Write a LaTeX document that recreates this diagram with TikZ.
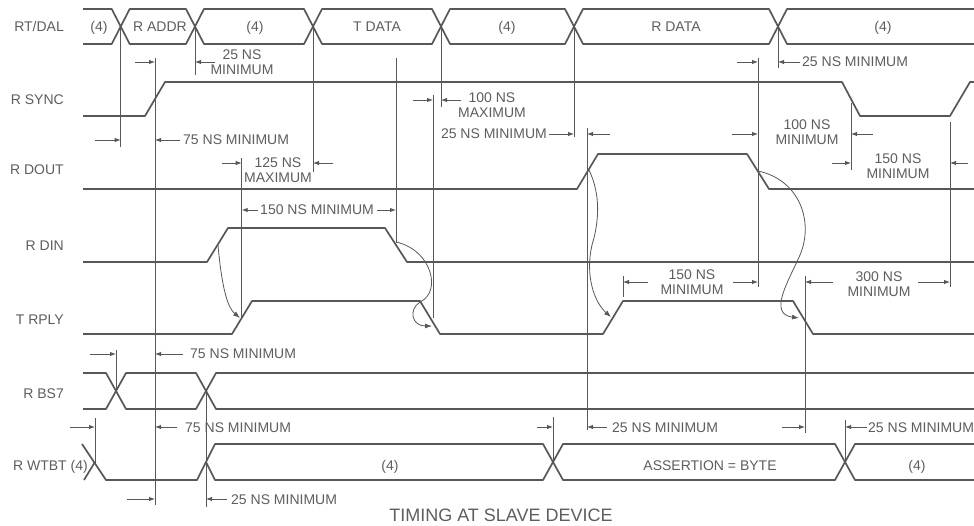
\documentclass[tikz,border=0pt]{standalone}
\usepackage{fontspec}
\setmainfont{Liberation Sans}
\usetikzlibrary{arrows.meta}
\definecolor{ink}{HTML}{585858}
\definecolor{tink}{HTML}{5E5E5E}
\begin{document}
\begin{tikzpicture}[x=1pt,y=-1pt,
  sig/.style={draw=ink,line width=1.7pt,line join=round},
  vl/.style={draw=ink,line width=0.8pt},
  dimarr/.style={draw=ink,line width=0.9pt,-{Latex[length=6pt,width=4.5pt]}},
  cause/.style={draw=ink,line width=0.8pt,-{Latex[length=7pt,width=5pt]}},
  txt/.style={text=tink,font=\fontsize{14}{15}\selectfont,inner sep=0pt,text height=10pt,text depth=0pt},
  txt2/.style={text=tink,font=\fontsize{14}{15}\selectfont,inner sep=0pt,align=center},
  signame/.style={txt,anchor=east},
  ttl/.style={text=tink,font=\fontsize{18}{20}\selectfont,inner sep=0pt}]
\useasboundingbox (0,0) rectangle (974,526);
\fill[white] (0,0) rectangle (974,526);

% ---------- signal names ----------
\node[signame] (nDAL)  at (64,27)  {RT/DAL};
\node[signame] (nSYNC) at (64,100) {R SYNC};
\node[signame] (nDOUT) at (64,170) {R DOUT};
\node[signame] (nDIN)  at (64,246) {R DIN};
\node[signame] (nRPLY) at (64,320) {T RPLY};
\node[signame] (nBS7)  at (64,393) {R BS7};
\node[signame] (nWTBT) at (88,465) {R WTBT (4)};

% ---------- RT/DAL bus ----------
\draw[sig] (83,9) -- (111.7,9) -- (129.7,44) -- (186,44) -- (204,9) -- (304,9) -- (322,44) -- (432,44) -- (450,9) -- (565,9) -- (583,44) -- (769,44) -- (787,9) -- (974,9);
\draw[sig] (83,44) -- (111.7,44) -- (129.7,9) -- (186,9) -- (204,44) -- (304,44) -- (322,9) -- (432,9) -- (450,44) -- (565,44) -- (583,9) -- (769,9) -- (787,44) -- (974,44);
\node[txt] (b1) at (99,27)  {(4)};
\node[txt] (b2) at (160,27) {R ADDR};
\node[txt] (b3) at (255,27) {(4)};
\node[txt] (b4) at (377,27) {T DATA};
\node[txt] (b5) at (507,27) {(4)};
\node[txt] (b6) at (676,27) {R DATA};
\node[txt] (b7) at (883,27) {(4)};

% ---------- R SYNC ----------
\draw[sig] (83,116) -- (145,116) -- (165,82) -- (842,82) -- (860,116) -- (950,116) -- (970,82) -- (974,82);
% ---------- R DOUT ----------
\draw[sig] (83,189) -- (577,189) -- (598,154) -- (747,154) -- (769,189) -- (974,189);
% ---------- R DIN ----------
\draw[sig] (83,262) -- (207,262) -- (228,228) -- (385,228) -- (407,262) -- (974,262);
% ---------- T RPLY ----------
\draw[sig] (83,334) -- (232,334) -- (252,301) -- (420,301) -- (440,334) -- (603,334) -- (623,301) -- (793,301) -- (813,334) -- (974,334);
% ---------- R BS7 ----------
\draw[sig] (83,373) -- (106,373) -- (126,409) -- (196,409) -- (216,373) -- (974,373);
\draw[sig] (83,409) -- (106,409) -- (126,373) -- (196,373) -- (216,409) -- (974,409);
% ---------- R WTBT ----------
\draw[sig] (82,444) -- (106,480) -- (197,480) -- (215,444) -- (543,444) -- (563,480) -- (835,480) -- (855,444) -- (974,444);
\draw[sig] (84,480) -- (95,462);
\draw[sig] (206,462) -- (215,480) -- (543,480) -- (563,444) -- (835,444) -- (855,480) -- (974,480);
\node[txt] (w1) at (390,465) {(4)};
\node[txt] (w2) at (710,465) {ASSERTION = BYTE};
\node[txt] (w3) at (917,465) {(4)};

% ---------- timing reference lines ----------
\foreach \x/\ya/\yb in {120.7/27/147, 155/58/505, 195/27/75, 241.7/158/318, 313/27/172,
  396/58/243, 433/95/318, 441/27/107, 574/27/137, 587/128/430, 623/276/297,
  758/58/287, 778/27/68, 805/276/433, 851/103/170, 950/122/287,
  116/350/391, 206/391/507, 95/418/463, 553/417/463, 845/420/462}
  \draw[vl] (\x,\ya) -- (\x,\yb);

% ---------- dimension arrows ----------
\foreach \xa/\xb/\y in {135/155/62, 215/195/62, 95/120.7/140, 180/155/140,
  222/241.7/163, 333/313/163, 258/241.7/210, 377/396/210,
  413/433/100, 461/441/100, 549/574/134, 610/587/134,
  737/758/62, 800/778/62, 732/758/134, 873/851/134,
  832/851/163, 968/950/163, 648/623/282, 733/758/282,
  833/805/282, 918/950/282, 90/116/354, 183/155/354,
  70/95/427, 177/155/427, 537/553/427, 607/587/427,
  782/805/427, 867/845/427, 127/155/499, 227/206/499}
  \draw[dimarr] (\xa,\y) -- (\xb,\y);

% ---------- dimension texts ----------
\node[txt2] (t1) at (242,62) {25 NS\\MINIMUM};
\node[txt,anchor=west] (t2) at (183,140) {75 NS MINIMUM};
\node[txt2] (t3) at (278,170) {125 NS\\MAXIMUM};
\node[txt] (t4) at (317,210) {150 NS MINIMUM};
\node[txt2] (t5) at (492,105) {100 NS\\MAXIMUM};
\node[txt,anchor=east] (t6) at (547,134) {25 NS MINIMUM};
\node[txt,anchor=west] (t7) at (802,62) {25 NS MINIMUM};
\node[txt2] (t8) at (807,132) {100 NS\\MINIMUM};
\node[txt2] (t9) at (898,166) {150 NS\\MINIMUM};
\node[txt2] (t10) at (692,282) {150 NS\\MINIMUM};
\node[txt2] (t11) at (879,284) {300 NS\\MINIMUM};
\node[txt,anchor=west] (t12) at (190,354) {75 NS MINIMUM};
\node[txt,anchor=west] (t13) at (185,427) {75 NS MINIMUM};
\node[txt,anchor=west] (t14) at (612,427) {25 NS MINIMUM};
\node[txt,anchor=west] (t15) at (868,427) {25 NS MINIMUM};
\node[txt,anchor=west] (t16) at (231,499) {25 NS MINIMUM};

% ---------- cause-effect curves ----------
\draw[cause] (218,245) .. controls (222,290) and (228,308) .. (240,318);
\draw[cause] (396,242) .. controls (432,250) and (442,292) .. (420,302) .. controls (408,310) and (412,326) .. (432,326);
\draw[cause] (589,170) .. controls (601,195) and (599,222) .. (592,245) .. controls (585,275) and (594,302) .. (611,317);
\draw[cause] (758,171) .. controls (800,180) and (814,222) .. (800,255) .. controls (788,282) and (768,314) .. (799,318);

% ---------- title ----------
\node[ttl] (title) at (501,515) {TIMING AT SLAVE DEVICE};
\end{tikzpicture}
\end{document}
